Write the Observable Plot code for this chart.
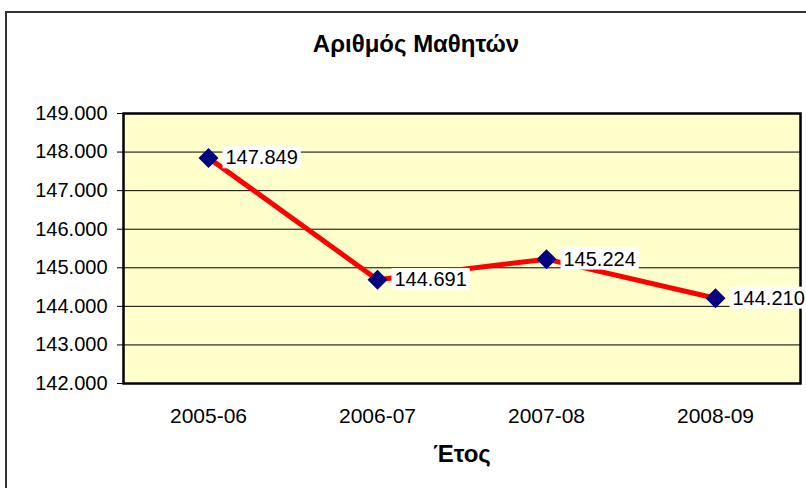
<!DOCTYPE html>
<html>
<head>
<meta charset="utf-8">
<script src="https://cdn.jsdelivr.net/npm/d3@7"></script>
<script src="https://cdn.jsdelivr.net/npm/@observablehq/plot@0.6"></script>
<style>
  html, body { margin: 0; padding: 0; background: #fff; }
  body { width: 806px; height: 488px; overflow: hidden; position: relative;
         font-family: "Liberation Sans", Arial, sans-serif; color: #000; }
  #box { position: absolute; left: 5px; top: 11px; width: 822px; height: 520px;
         border: 2px solid #333; box-sizing: border-box; }
  #chart { position: absolute; left: 0; top: 0; }
  #title { position: absolute; left: 5px; width: 822px; top: 32px; line-height: 24px;
           text-align: center; font-weight: bold; font-size: 24px; }
  #xlabel { position: absolute; left: 123px; width: 678px; top: 442px; line-height: 24px;
            text-align: center; font-weight: bold; font-size: 24px; }
</style>
</head>
<body>
<div id="box"></div>
<div id="title">Αριθμός Μαθητών</div>
<div id="chart"></div>
<div id="xlabel">Έτος</div>
<script>
const years = ["2005-06", "2006-07", "2007-08", "2008-09"];
const students = [147849, 144691, 145224, 144210];
const yTicks = [142000, 143000, 144000, 145000, 146000, 147000, 148000, 149000];

const locale = d3.formatLocale({decimal: ",", thousands: ".", grouping: [3], currency: ["", "€"]});
const fmt = locale.format(",d");

const data = years.map((y, i) => ({year: y, value: students[i]}));

const chart = Plot.plot({
  width: 806,
  height: 488,
  marginTop: 113,
  marginBottom: 105,
  marginLeft: 123,
  marginRight: 6,
  style: {background: "transparent", fontSize: "20px", fontFamily: "'Liberation Sans', Arial, sans-serif", color: "#000"},
  x: {type: "point", domain: years, padding: 0.5, label: null, tickSize: 0, tickPadding: 25},
  y: {domain: [142000, 149000], ticks: yTicks, tickFormat: fmt, label: null, tickSize: 6, tickPadding: 10},
  marks: [
    Plot.frame({fill: "#FFFFCC", stroke: null}),
    Plot.ruleY(yTicks, {stroke: "#000", strokeWidth: 1}),
    Plot.frame({stroke: "#000", strokeWidth: 2.5}),
    Plot.line(data, {x: "year", y: "value", stroke: "#FF0000", strokeWidth: 5}),
    Plot.dot(data, {x: "year", y: "value", symbol: "diamond2", r: 9, fill: "#000080", stroke: null}),
    Plot.text(data, {x: "year", y: "value", text: d => fmt(d.value), textAnchor: "start", dx: 17, fontSize: 20, fill: "#000"})
  ]
});
document.getElementById("chart").appendChild(chart);

// x tick labels slightly larger, as in the reference
d3.select(chart).selectAll('g[aria-label="x-axis tick label"] text, g[aria-label="x-axis"] text').style("font-size", "21px");

// white boxes behind the data labels
d3.select(chart).selectAll('g[aria-label="text"] text').each(function () {
  const b = this.getBBox();
  const t = this.getAttribute("transform");
  const r = document.createElementNS("http://www.w3.org/2000/svg", "rect");
  r.setAttribute("x", b.x - 3);
  r.setAttribute("y", b.y);
  r.setAttribute("width", b.width + 6);
  r.setAttribute("height", b.height);
  r.setAttribute("fill", "#fff");
  if (t) r.setAttribute("transform", t);
  this.parentNode.insertBefore(r, this);
});
</script>
</body>
</html>
